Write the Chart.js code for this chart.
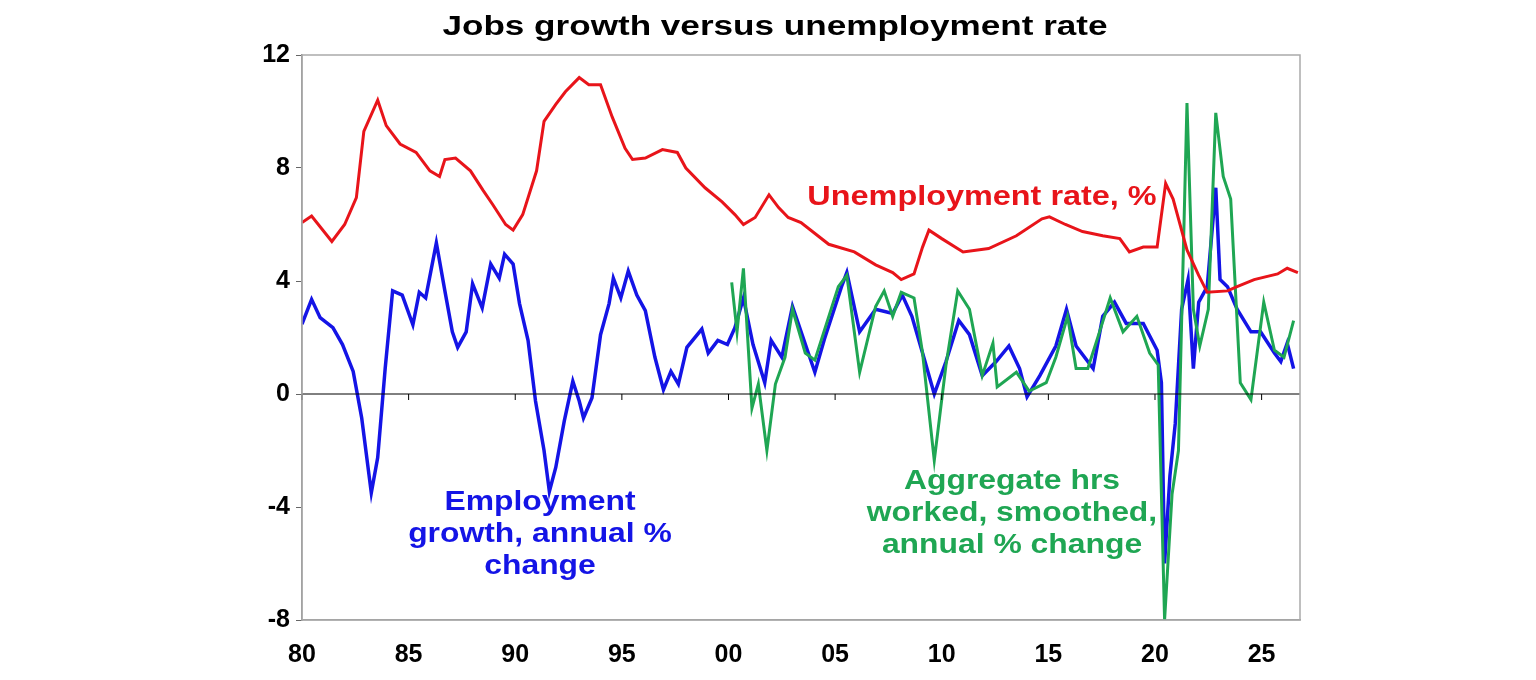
<!DOCTYPE html>
<html>
<head>
<meta charset="utf-8">
<script src="https://cdn.jsdelivr.net/npm/chart.js@4"></script>
<style>
  body { margin: 0; background: #fff; }
  #wrap { width: 1536px; height: 680px; }
</style>
</head>
<body>
<div id="wrap"><canvas id="grafico" width="1536" height="680"></canvas></div>
<script>
// años (decimal) y valores
const anosDesempleo = [1980.0, 1980.45, 1981.4, 1982.0, 1982.55, 1982.9, 1983.55, 1983.95, 1984.6, 1985.35, 1986.0, 1986.45, 1986.7, 1987.2, 1987.9, 1988.5, 1988.95, 1989.55, 1989.9, 1990.35, 1991.0, 1991.35, 1991.9, 1992.35, 1993.0, 1993.45, 1994.0, 1994.55, 1995.15, 1995.5, 1996.1, 1996.9, 1997.6, 1998.0, 1998.9, 1999.7, 2000.3, 2000.7, 2001.25, 2001.9, 2002.35, 2002.8, 2003.4, 2004.7, 2005.9, 2006.9, 2007.7, 2008.1, 2008.7, 2009.1, 2009.4, 2010.0, 2011.0, 2012.2, 2013.5, 2014.7, 2015.05, 2015.8, 2016.6, 2017.55, 2018.35, 2018.8, 2019.45, 2020.1, 2020.5, 2020.85, 2021.5, 2022.05, 2022.45, 2023.4, 2023.85, 2024.65, 2025.75, 2026.2, 2026.7];
const desempleo = [6.07, 6.3, 5.4, 6.0, 6.95, 9.3, 10.4, 9.5, 8.85, 8.55, 7.9, 7.7, 8.3, 8.35, 7.9, 7.2, 6.7, 6.0, 5.8, 6.35, 7.9, 9.65, 10.25, 10.7, 11.2, 10.95, 10.95, 9.8, 8.7, 8.3, 8.35, 8.65, 8.55, 8.0, 7.3, 6.8, 6.35, 6.0, 6.25, 7.05, 6.6, 6.25, 6.07, 5.3, 5.03, 4.57, 4.3, 4.05, 4.25, 5.2, 5.8, 5.5, 5.03, 5.15, 5.6, 6.2, 6.27, 6.0, 5.75, 5.6, 5.5, 5.03, 5.2, 5.2, 7.45, 6.9, 5.1, 4.2, 3.6, 3.65, 3.8, 4.05, 4.25, 4.45, 4.3];

const anosEmpleo = [1980.0, 1980.45, 1980.85, 1981.45, 1981.9, 1982.4, 1982.8, 1983.25, 1983.55, 1983.9, 1984.25, 1984.7, 1985.2, 1985.5, 1985.8, 1986.3, 1986.7, 1987.05, 1987.3, 1987.7, 1988.0, 1988.45, 1988.85, 1989.25, 1989.5, 1989.9, 1990.2, 1990.6, 1990.95, 1991.35, 1991.6, 1991.9, 1992.3, 1992.7, 1993.0, 1993.2, 1993.6, 1994.0, 1994.4, 1994.6, 1994.95, 1995.3, 1995.7, 1996.1, 1996.55, 1996.95, 1997.3, 1997.65, 1998.05, 1998.75, 1999.05, 1999.5, 1999.95, 2000.3, 2000.7, 2001.15, 2001.7, 2002.0, 2002.5, 2003.0, 2004.05, 2004.5, 2005.3, 2005.55, 2006.15, 2006.9, 2007.7, 2008.15, 2008.6, 2009.1, 2009.65, 2010.2, 2010.8, 2011.3, 2011.9, 2012.55, 2013.15, 2013.65, 2014.0, 2014.6, 2015.35, 2015.85, 2016.3, 2017.1, 2017.55, 2018.1, 2018.65, 2019.45, 2020.1, 2020.3, 2020.45, 2020.7, 2020.95, 2021.25, 2021.55, 2021.8, 2022.05, 2022.45, 2022.85, 2023.05, 2023.4, 2023.85, 2024.5, 2024.95, 2025.6, 2025.9, 2026.2, 2026.5];
const empleo = [2.47, 3.35, 2.7, 2.35, 1.75, 0.8, -0.85, -3.5, -2.25, 0.9, 3.65, 3.5, 2.45, 3.6, 3.4, 5.35, 3.65, 2.2, 1.65, 2.2, 3.9, 3.05, 4.6, 4.1, 4.95, 4.6, 3.2, 1.9, -0.25, -2.0, -3.45, -2.6, -0.95, 0.45, -0.25, -0.85, -0.13, 2.1, 3.2, 4.1, 3.4, 4.35, 3.5, 2.95, 1.3, 0.15, 0.8, 0.35, 1.65, 2.3, 1.45, 1.9, 1.75, 2.35, 3.4, 1.75, 0.4, 1.9, 1.3, 3.1, 0.77, 1.95, 3.8, 4.3, 2.2, 3.0, 2.85, 3.5, 2.75, 1.45, 0.0, 1.15, 2.6, 2.1, 0.65, 1.15, 1.7, 0.9, -0.1, 0.65, 1.7, 3.0, 1.7, 0.9, 2.75, 3.25, 2.5, 2.5, 1.55, 0.4, -6.0, -2.9, -1.05, 3.0, 4.05, 0.9, 3.25, 3.8, 7.3, 4.05, 3.8, 3.0, 2.2, 2.2, 1.45, 1.15, 1.8, 0.9];

const anosHoras = [2000.15, 2000.4, 2000.7, 2001.1, 2001.4, 2001.8, 2002.2, 2002.65, 2003.0, 2003.6, 2004.05, 2005.15, 2005.55, 2006.15, 2006.9, 2007.3, 2007.7, 2008.1, 2008.7, 2009.1, 2009.65, 2010.2, 2010.75, 2011.3, 2011.9, 2012.4, 2012.6, 2013.5, 2014.1, 2014.9, 2015.35, 2015.9, 2016.3, 2016.85, 2017.4, 2017.9, 2018.5, 2019.15, 2019.75, 2020.15, 2020.45, 2020.8, 2021.1, 2021.5, 2021.8, 2022.1, 2022.5, 2022.85, 2023.2, 2023.55, 2024.0, 2024.5, 2025.1, 2025.6, 2026.05, 2026.5];
const horas = [3.95, 2.2, 4.45, -0.5, 0.35, -2.0, 0.35, 1.3, 3.0, 1.45, 1.2, 3.8, 4.2, 0.77, 3.1, 3.65, 2.75, 3.6, 3.4, 1.45, -2.35, 1.03, 3.65, 3.0, 0.65, 1.8, 0.25, 0.77, 0.1, 0.4, 1.3, 2.75, 0.9, 0.9, 2.2, 3.4, 2.2, 2.75, 1.45, 1.03, -8.0, -3.55, -2.0, 10.3, 3.0, 1.7, 3.0, 9.95, 7.7, 6.9, 0.4, -0.2, 3.25, 1.55, 1.3, 2.6];

const etiquetasY = [-8, -4, 0, 4, 8, 12];

const rojo = "#e8141a", azul = "#1414e6", verde = "#1fa653";
const fuente = "'Liberation Sans', Arial, sans-serif";

function puntos(xs, ys) {
  return xs.map((x, i) => ({ x: x, y: ys[i] }));
}

// texto ensanchado horizontalmente, como en el original
function textoAncho(ctx, t, x, y, escala) {
  ctx.save();
  ctx.translate(x, y);
  ctx.scale(escala, 1);
  ctx.fillText(t, 0, 0);
  ctx.restore();
}

const textos = {
  id: "textos",
  afterDatasetsDraw(chart) {
    const ctx = chart.ctx;
    const x = chart.scales.x, y = chart.scales.y;
    ctx.save();
    // línea del cero y marcas del eje x
    ctx.strokeStyle = "#000";
    ctx.lineWidth = 1;
    const y0 = y.getPixelForValue(0);
    ctx.beginPath();
    ctx.moveTo(chart.chartArea.left, y0);
    ctx.lineTo(chart.chartArea.right, y0);
    for (let a = 1980; a <= 2025; a += 5) {
      const px = x.getPixelForValue(a);
      ctx.moveTo(px, y0);
      ctx.lineTo(px, y0 + 6);
    }
    ctx.stroke();

    ctx.textAlign = "center";
    ctx.textBaseline = "middle";
    ctx.fillStyle = "#000";
    ctx.font = "bold 27px " + fuente;
    textoAncho(ctx, "Jobs growth versus unemployment rate", 775, 28, 1.3);

    ctx.font = "bold 27px " + fuente;
    ctx.fillStyle = rojo;
    textoAncho(ctx, "Unemployment rate, %", 982, 198, 1.2);
    ctx.fillStyle = azul;
    ["Employment", "growth, annual %", "change"].forEach((t, i) => textoAncho(ctx, t, 540, 503 + i * 32, 1.18));
    ctx.fillStyle = verde;
    ["Aggregate hrs", "worked, smoothed,", "annual % change"].forEach((t, i) => textoAncho(ctx, t, 1012, 482 + i * 32, 1.18));
    ctx.restore();
  },
};

new Chart(document.getElementById("grafico").getContext("2d"), {
  type: "line",
  data: {
    datasets: [
      { data: puntos(anosDesempleo, desempleo), borderColor: rojo, borderWidth: 3, order: 0 },
      { data: puntos(anosHoras, horas), borderColor: verde, borderWidth: 3, order: 1 },
      { data: puntos(anosEmpleo, empleo), borderColor: azul, borderWidth: 3.5, order: 2 },
    ],
  },
  options: {
    responsive: false,
    animation: false,
    elements: { point: { radius: 0 }, line: { tension: 0 } },
    layout: { padding: { top: 55, right: 236, left: 0, bottom: 0 } },
    plugins: { legend: { display: false }, tooltip: { enabled: false } },
    scales: {
      x: {
        type: "linear",
        min: 1980,
        max: 2026.8,
        afterBuildTicks: (s) => {
          s.ticks = [];
          for (let a = 1980; a <= 2025; a += 5) s.ticks.push({ value: a });
        },
        afterFit: (s) => { s.height = 60; },
        grid: { display: false },
        border: { color: "#999", width: 1.5 },
        ticks: {
          color: "#000",
          font: { family: fuente, size: 25, weight: "bold" },
          padding: 12,
          maxRotation: 0,
          callback: (v) => String(v % 100).padStart(2, "0"),
        },
      },
      y: {
        min: -8,
        max: 12,
        afterBuildTicks: (s) => { s.ticks = etiquetasY.map((v) => ({ value: v })); },
        afterFit: (s) => { s.width = 302; },
        grid: { drawOnChartArea: false, tickLength: 6, color: "#666" },
        border: { color: "#888", width: 1.5 },
        ticks: {
          color: "#000",
          font: { family: fuente, size: 25, weight: "bold" },
          padding: 6,
        },
      },
    },
  },
  plugins: [
    textos,
    {
      id: "marco",
      afterDraw(chart) {
        const a = chart.chartArea, ctx = chart.ctx;
        ctx.save();
        ctx.strokeStyle = "#aaa";
        ctx.lineWidth = 1.5;
        ctx.strokeRect(a.left, a.top, a.right - a.left, a.bottom - a.top);
        ctx.restore();
      },
    },
  ],
});
</script>
</body>
</html>
